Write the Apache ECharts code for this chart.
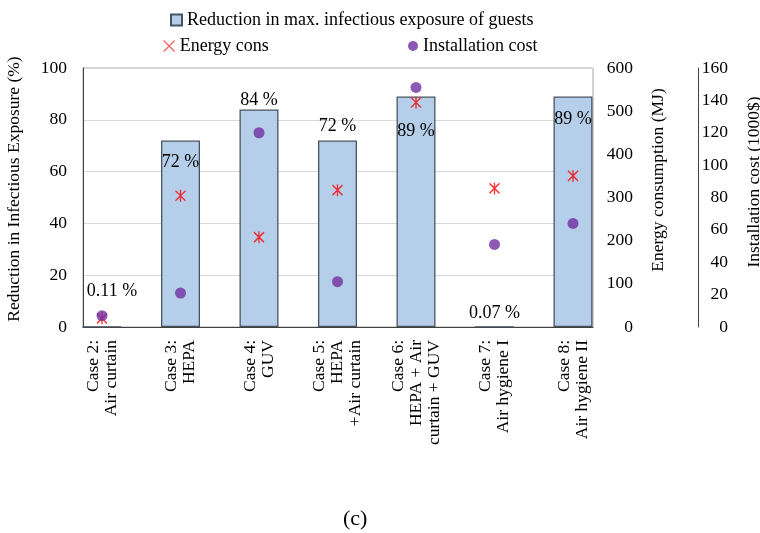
<!DOCTYPE html>
<html>
<head>
<meta charset="utf-8">
<script src="https://cdn.jsdelivr.net/npm/echarts@6/dist/echarts.min.js"></script>
<style>
  html, body { margin: 0; padding: 0; background: #ffffff; }
  #chart { width: 760px; height: 533px; }
</style>
</head>
<body>
<div id="chart"></div>
<script>
// Ventilation / air-cleaning strategies compared
const categories = [
  'Case 2:\nAir curtain',
  'Case 3:\nHEPA',
  'Case 4:\nGUV',
  'Case 5:\nHEPA\n+Air curtain',
  'Case 6:\nHEPA + Air\ncurtain + GUV',
  'Case 7:\nAir hygiene I',
  'Case 8:\nAir hygiene II'
];
// Reduction in max. infectious exposure of guests (%)
const reduction = [0.11, 72, 84, 72, 89, 0.07, 89];
// Energy consumption (MJ)
const energy = [20, 304, 208, 317, 520, 321, 350];
// Installation cost (1000$)
const cost = [7, 21, 120, 28, 148, 51, 64];

// Axis ranges
const reductionAxis = { min: 0, max: 100, interval: 20 };
const energyAxis = { min: 0, max: 600, interval: 100 };
const costAxis = { min: 0, max: 160, interval: 20 };

const serif = 'Liberation Serif';
const barName = 'Reduction in max. infectious exposure of guests';
const energyName = 'Energy cons';
const costName = 'Installation cost';

// Where each bar's percentage label sits
const labelPlacement = [
  { position: 'top', distance: 26, offset: [10, 0] },
  { position: 'insideTop', distance: 13 },
  { position: 'top', distance: 0 },
  { position: 'top', distance: 5 },
  { position: 'insideTop', distance: 26 },
  { position: 'top', distance: 4 },
  { position: 'insideTop', distance: 14 }
];

const barData = reduction.map((v, i) => ({ value: v, label: labelPlacement[i] }));

const tickText = { fontFamily: serif, fontSize: 17.5, color: '#000' };
const nameText = { fontFamily: serif, fontSize: 17.5, color: '#000' };

const chart = echarts.init(document.getElementById('chart'));
chart.setOption({
  animation: false,
  backgroundColor: '#ffffff',
  title: {
    text: '(c)',
    left: 338,
    top: 503,
    textStyle: { fontFamily: serif, fontSize: 22, fontWeight: 'normal', color: '#000' }
  },
  legend: [
    {
      data: [{ name: barName, icon: 'rect' }],
      left: 165, top: 6, itemWidth: 11, itemHeight: 11,
      selectedMode: false,
      textStyle: { fontFamily: serif, fontSize: 18, color: '#000' }
    },
    {
      data: [{ name: energyName, icon: 'path://M0,0L10,10M10,0L0,10',
               itemStyle: { color: 'transparent', borderColor: '#e8413c', borderWidth: 1.3 } }],
      left: 158, top: 32, itemWidth: 11, itemHeight: 11,
      selectedMode: false,
      textStyle: { fontFamily: serif, fontSize: 18, color: '#000' }
    },
    {
      data: [{ name: costName, icon: 'circle' }],
      left: 403, top: 32, itemWidth: 10, itemHeight: 10,
      selectedMode: false,
      textStyle: { fontFamily: serif, fontSize: 18, color: '#000' }
    }
  ],
  grid: [
    // plot frame with the visible value axes
    { left: 83, top: 68, width: 510, height: 259, outerBoundsMode: 'none', containLabel: false,
      show: true, borderColor: '#a6a6a6', borderWidth: 1, backgroundColor: 'transparent' },
    // mark layer: the first and last bars sit flush with the frame
    { left: 62.75, top: 68, width: 549.5, height: 259, outerBoundsMode: 'none', containLabel: false }
  ],
  xAxis: [
    {
      gridIndex: 0, type: 'value', min: 0, max: 1,
      axisLine: { show: true, lineStyle: { color: '#404040', width: 1 } },
      axisTick: { show: false }, axisLabel: { show: false }, splitLine: { show: false }
    },
    {
      gridIndex: 1, type: 'category', data: categories,
      axisLine: { show: false }, axisTick: { show: false }, splitLine: { show: false },
      axisLabel: { interval: 0, rotate: 90, margin: 13, lineHeight: 18, padding: [10, 0, 0, 0], ...tickText }
    }
  ],
  yAxis: [
    {
      gridIndex: 0, type: 'value', position: 'left', ...reductionAxis,
      name: 'Reduction in Infectious Exposure (%)', nameLocation: 'middle', nameGap: 60, nameRotate: 90,
      nameTextStyle: { ...nameText, padding: [0, 0, 0, 17] },
      axisLine: { show: true, lineStyle: { color: '#404040', width: 1 } },
      axisTick: { show: false },
      axisLabel: { margin: 16, ...tickText },
      splitLine: { show: true, lineStyle: { color: '#d9d9d9', width: 1 } }
    },
    {
      gridIndex: 0, type: 'value', position: 'right', ...energyAxis,
      name: 'Energy consumption (MJ)', nameLocation: 'middle', nameGap: 56, nameRotate: 90,
      nameTextStyle: { ...nameText, padding: [0, 0, 0, 35] },
      axisLine: { show: false }, axisTick: { show: false }, splitLine: { show: false },
      axisLabel: { margin: 40, align: 'right', ...tickText }
    },
    {
      gridIndex: 0, type: 'value', position: 'right', offset: 105, ...costAxis,
      name: 'Installation cost (1000$)', nameLocation: 'middle', nameGap: 47, nameRotate: 90,
      nameTextStyle: { ...nameText, padding: [0, 0, 0, 31] },
      axisLine: { show: true, lineStyle: { color: '#404040', width: 1 } },
      axisTick: { show: false }, splitLine: { show: false },
      axisLabel: { margin: 30, align: 'right', ...tickText }
    },
    { gridIndex: 1, type: 'value', ...reductionAxis, show: false },
    { gridIndex: 1, type: 'value', ...energyAxis, show: false },
    { gridIndex: 1, type: 'value', ...costAxis, show: false }
  ],
  series: [
    {
      name: barName, type: 'bar', xAxisIndex: 1, yAxisIndex: 3,
      data: barData, barWidth: 39,
      itemStyle: { color: '#b5cee9', borderColor: '#4a5260', borderWidth: 1.3 },
      label: { show: true, formatter: '{c} %', fontFamily: serif, fontSize: 18, color: '#000' }
    },
    {
      name: energyName, type: 'scatter', xAxisIndex: 1, yAxisIndex: 4,
      data: energy,
      symbol: 'path://M0,1L10,11M10,1L0,11M5,0L5,12', symbolSize: [10, 12],
      itemStyle: { color: 'transparent', borderColor: '#ff0000', borderWidth: 1.4 }
    },
    {
      name: costName, type: 'scatter', xAxisIndex: 1, yAxisIndex: 5,
      data: cost, symbol: 'circle', symbolSize: 11,
      itemStyle: { color: '#7030a0' }
    }
  ]
});
</script>
</body>
</html>
